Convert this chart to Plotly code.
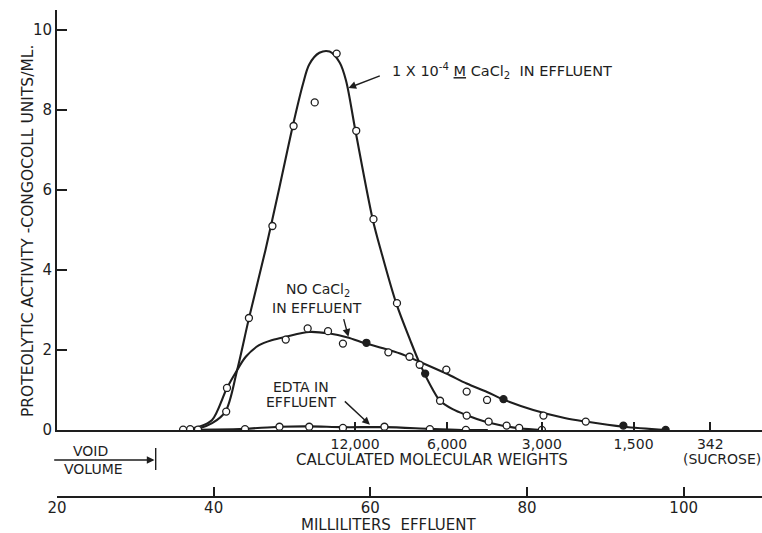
import plotly.graph_objects as go

INK = "#1e1e1e"
FONT = "DejaVu Sans"

# ---- measured fractions: elution volume (ml) vs proteolytic activity (Congocoll units/ml)
cacl2_ml = [36.1, 38.0, 41.6, 44.5, 47.5, 50.2, 52.9, 55.7, 58.2, 60.4, 63.4, 67.0, 68.9,
            72.3, 75.1, 77.4, 79.0, 81.9]
cacl2_act = [0.01, 0.01, 0.46, 2.80, 5.10, 7.60, 8.19, 9.41, 7.48, 5.27, 3.17, 1.41, 0.73,
             0.36, 0.21, 0.11, 0.05, 0.0]
cacl2_solid = [67.0]

nocacl2_ml = [37.0, 41.7, 49.2, 52.0, 54.6, 56.5, 59.5, 62.3, 65.0, 66.3, 69.7, 72.3, 74.9,
              77.0, 82.1, 87.5, 92.3, 97.7]
nocacl2_act = [0.02, 1.05, 2.26, 2.54, 2.47, 2.16, 2.18, 1.94, 1.83, 1.63, 1.51, 0.96, 0.75,
               0.77, 0.36, 0.21, 0.11, 0.0]
nocacl2_solid = [59.5, 77.0, 92.3, 97.7]

edta_ml = [44.0, 48.4, 52.2, 56.5, 61.8, 67.6, 72.2]
edta_act = [0.02, 0.08, 0.08, 0.05, 0.08, 0.02, 0.0]
edta_solid = []

# ---- hand-drawn elution curves through the fractions
cacl2_curve_ml = [36.0, 38.1, 39.8, 41.5, 43.0, 44.5, 46.6, 48.4, 50.1, 51.4, 52.2, 53.5,
                  54.8, 56.1, 56.9, 58.1, 60.3, 61.4, 63.3, 65.1, 66.4, 68.0, 68.9, 70.5,
                  72.3, 74.5, 76.6, 79.1, 81.9]
cacl2_curve_act = [0.0, 0.04, 0.17, 0.46, 1.50, 2.79, 4.49, 6.07, 7.60, 8.65, 9.14, 9.43,
                   9.46, 9.18, 8.73, 7.48, 5.27, 4.45, 3.17, 2.24, 1.62, 1.00, 0.73, 0.52,
                   0.37, 0.22, 0.12, 0.04, 0.0]

nocacl2_curve_ml = [36.0, 38.1, 39.8, 41.7, 43.0, 44.1, 45.8, 47.5, 49.2, 52.2, 54.8, 57.0,
                    59.5, 61.5, 63.8, 66.35, 69.7, 72.3, 74.9, 77.0, 80.8, 84.8, 87.5,
                    92.3, 97.7]
nocacl2_curve_act = [0.0, 0.08, 0.25, 1.05, 1.50, 1.83, 2.12, 2.25, 2.33, 2.45, 2.41, 2.32,
                     2.16, 2.05, 1.91, 1.70, 1.41, 1.16, 0.95, 0.76, 0.50, 0.30, 0.21,
                     0.08, 0.0]

edta_curve_ml = [36.0, 40.0, 44.0, 48.4, 52.2, 56.5, 61.8, 67.6, 72.2, 75.0]
edta_curve_act = [0.0, 0.01, 0.03, 0.08, 0.09, 0.07, 0.07, 0.03, 0.0, 0.0]

# ---- axes
activity_ticks = [0, 2, 4, 6, 8, 10]
ml_ticks = [20, 40, 60, 80, 100]
mw_tick_ml = [58.05, 69.8, 81.9, 93.6, 103.4]
mw_tick_text = ["12,000", "6,000", "3,000", "1,500", "342"]
void_volume_ml = 32.6

X_RANGE = [20, 110]
Y_RANGE = [0, 10.5]
Y_DOMAIN_BOTTOM = 0.197
ML_AXIS_POS = 0.0688

fig = go.Figure()

# smooth curves share the molecular-weight axis (x); fractions sit on the ml axis (x2)
curves = [
    (cacl2_curve_ml, cacl2_curve_act),
    (nocacl2_curve_ml, nocacl2_curve_act),
    (edta_curve_ml, edta_curve_act),
]
for xs, ys in curves:
    fig.add_trace(go.Scatter(
        x=xs, y=ys, mode="lines", xaxis="x", yaxis="y",
        line=dict(color=INK, width=2.1, shape="spline", smoothing=0.9),
        hoverinfo="skip", showlegend=False,
    ))

points = [
    ("1 x 10-4 M CaCl2", cacl2_ml, cacl2_act, cacl2_solid),
    ("No CaCl2", nocacl2_ml, nocacl2_act, nocacl2_solid),
    ("EDTA", edta_ml, edta_act, edta_solid),
]
for name, xs, ys, solid in points:
    fills = [INK if x in solid else "white" for x in xs]
    fig.add_trace(go.Scatter(
        x=xs, y=ys, mode="markers", name=name, xaxis="x2", yaxis="y",
        marker=dict(symbol="circle", size=7, color=fills,
                    line=dict(color=INK, width=1.3)),
        showlegend=False,
    ))

annotations = []


def label(text, x, y, size=14, xref="x", yref="y", xanchor="center", **kw):
    annotations.append(dict(
        text=text, x=x, y=y, xref=xref, yref=yref, showarrow=False,
        xanchor=xanchor, yanchor="middle",
        font=dict(family=FONT, size=size, color=INK), **kw))


def arrow(x_head, y_head, x_tail, y_tail, yref="y"):
    annotations.append(dict(
        text="", x=x_head, y=y_head, ax=x_tail, ay=y_tail,
        xref="x", yref=yref, axref="x", ayref=yref,
        showarrow=True, arrowhead=2, arrowsize=1.1, arrowwidth=1.4,
        arrowcolor=INK, standoff=0))


# curve labels
label("1 X 10<sup>-4</sup> <u>M</u> CaCl<sub>2</sub>  IN EFFLUENT", 62.5, 8.98,
      size=14.5, xanchor="left")
arrow(57.2, 8.55, 61.4, 8.87)

label("NO CaCl<sub>2</sub>", 53.3, 3.5)
label("IN EFFLUENT", 53.2, 3.05)
arrow(57.2, 2.33, 56.55, 2.81)

label("EDTA IN", 51.2, 1.08)
label("EFFLUENT", 51.2, 0.70)
arrow(59.95, 0.13, 56.55, 0.75)


# vertical page position (pixels from top) to paper fraction
def py(px):
    return (533 - px) / 523


# void volume marker below the baseline
label("VOID", 24.3, py(451), yref="paper")
label("VOLUME", 24.6, py(469), yref="paper")
annotations.append(dict(
    text="", x=void_volume_ml - 0.15, y=py(460), ax=19.45, ay=0,
    xref="x", yref="paper", axref="x", ayref="pixel",
    showarrow=True, arrowhead=2, arrowsize=1.1, arrowwidth=1.4,
    arrowcolor=INK, standoff=0))

# axis captions
label("CALCULATED MOLECULAR WEIGHTS", 67.9, py(460), size=15, yref="paper")
label("(SUCROSE)", 104.9, py(459), yref="paper")
label("MILLILITERS  EFFLUENT", 62.3, py(525), size=15, yref="paper")
label("PROTEOLYTIC ACTIVITY -CONGOCOLL UNITS/ML.", -0.041, py(231), size=15.5,
      xref="paper", yref="paper", textangle=-90)

shapes = [dict(
    type="line", xref="x", yref="paper",
    x0=void_volume_ml, x1=void_volume_ml, y0=py(448), y1=py(470),
    line=dict(color=INK, width=1.4))]

axis_common = dict(
    showline=True, linewidth=2, linecolor=INK,
    ticks="inside", tickwidth=1.5, tickcolor=INK,
    showgrid=False, zeroline=False, automargin=False,
)

fig.update_layout(
    template="none",
    width=762, height=533,
    margin=dict(l=57, r=0, t=10, b=0, autoexpand=False),
    paper_bgcolor="white", plot_bgcolor="white",
    showlegend=False,
    font=dict(family=FONT, color=INK, size=14),
    annotations=annotations,
    shapes=shapes,
    xaxis=dict(
        range=X_RANGE, domain=[0, 1], anchor="y", ticklen=8,
        tickvals=mw_tick_ml, ticktext=mw_tick_text,
        tickfont=dict(family=FONT, size=14, color=INK), **axis_common,
    ),
    xaxis2=dict(
        range=X_RANGE, overlaying="x", anchor="free", position=ML_AXIS_POS,
        side="bottom", ticklen=9, tickvals=ml_ticks, ticklabelstandoff=-3,
        tickfont=dict(family=FONT, size=15, color=INK), **axis_common,
    ),
    yaxis=dict(
        range=Y_RANGE, domain=[Y_DOMAIN_BOTTOM, 1], anchor="x", ticklen=10,
        tickvals=activity_ticks,
        tickfont=dict(family=FONT, size=15, color=INK), **axis_common,
    ),
)

fig.write_html("out.html")
